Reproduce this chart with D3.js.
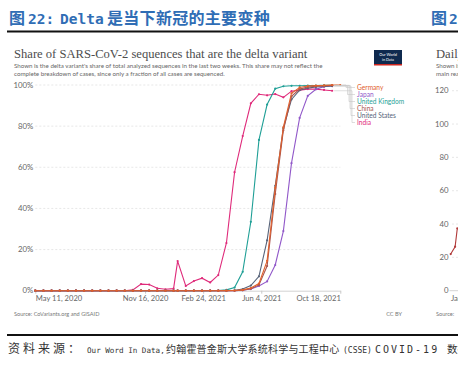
<!DOCTYPE html>
<html><head><meta charset="utf-8">
<script src="https://cdn.jsdelivr.net/npm/d3@7"></script>
<style>
html,body{margin:0;padding:0;background:#fff;}
svg{display:block;}
</style></head>
<body>
<svg id="c" width="458" height="366"></svg>
<script>
// ---------- data ----------
const dates = [
  "2020-05-11","2020-05-25","2020-06-08","2020-06-22","2020-07-06","2020-07-20","2020-08-03","2020-08-17",
  "2020-08-31","2020-09-14","2020-09-28","2020-10-12","2020-10-26","2020-11-09","2020-11-23","2020-12-07",
  "2020-12-21","2021-01-04",
  "2021-01-11","2021-01-25","2021-02-08","2021-02-22","2021-03-08","2021-03-22","2021-04-05","2021-04-19",
  "2021-05-03","2021-05-17","2021-05-31","2021-06-14","2021-06-28","2021-07-12","2021-07-26","2021-08-09",
  "2021-08-23","2021-09-06","2021-09-20","2021-10-04","2021-10-18"
];
const zeros18 = [0,0,0,0,0,0,0,0,0,0,0,0,0,0,0,0,0,0];
const india   = [0,0,0,0,0,0,0,0,0,0,0,0,0.4,3.2,3.0,1.2,0.7,1.0,
                 14.4,2.3,4.7,6.1,4.0,7.6,23.2,57.6,75.2,91.1,95.5,95.0,95.6,94.0,97.0,97.5,98.0,98.0,97.6,97.2,null];
const uk      = zeros18.concat([0,0,0,0,0,0.1,0.4,1.5,9.2,33.5,73.3,90.5,98.2,99.4,99.6,99.6,99.7,99.7,99.8,99.8,null]);
const japan   = zeros18.concat([0,0,0,0,0,0,0,0,0.2,0.8,2.3,4.5,12.5,29,62,84,94.7,97.9,99.2,99.5,null]);
const us      = zeros18.concat([0,0,0,0,0,0,0,0.2,0.8,2.5,7,24.5,51,79,93,97.5,98.5,99,99.3,99.5,null]);
const china   = zeros18.concat([0,0,0,0,0,0,0,0,0.3,1.0,2.8,12,47,78,94.5,98,99,99.4,99.6,99.8,null]);
const germany = zeros18.concat([0,0,0,0,0,0,0.05,0.1,0.4,1.3,3.5,14.5,50,79.5,96,98.8,99.5,99.7,99.8,100,100]);

const seriesNames  = ["India","United Kingdom","Japan","United States","China","Germany"];
const seriesValues = [india, uk, japan, us, china, germany];
const seriesColors = ["#df2a7a","#1f9f96","#9158c9","#58647a","#a85650","#e1602c"];
const legendOrder  = ["Germany","Japan","United Kingdom","China","United States","India"];

const yTicks = [0,20,40,60,80,100];
const xTickDates = ["2020-05-11","2020-11-16","2021-02-24","2021-06-04","2021-10-18"];
const xTickLabels = ["May 11, 2020","Nov 16, 2020","Feb 24, 2021","Jun 4, 2021","Oct 18, 2021"];

// partial neighbouring chart
const rightTicks = [0,20,40,60,80,100,120];
const rightDates = ["2020-01-22","2020-01-24","2020-01-25"];
const rightValues = [22,26.4,37.4];

// ---------- drawing ----------
const svg = d3.select("#c");
const parse = d3.timeParse("%Y-%m-%d");
const sans = "Lato, 'Noto Sans', Arial, sans-serif";
const serif = "'Liberation Serif', 'DejaVu Serif', serif";
const cjk = "'Noto Sans CJK SC'";
const mono = "'DejaVu Sans Mono', monospace";

svg.append("rect").attr("width",458).attr("height",366).attr("fill","#fff");

// header
const head = svg.append("text").attr("y",24).attr("fill","#2f6db5")
  .attr("font-weight","bold").attr("font-size",16);
head.append("tspan").attr("x",9).attr("font-family",cjk).text("图");
head.append("tspan").attr("x",28).attr("font-family",mono).attr("font-size",14.5).text("22:");
head.append("tspan").attr("x",60).attr("font-family",mono).attr("font-size",14.5).text("Delta");
head.append("tspan").attr("x",107).attr("font-family",cjk).attr("letter-spacing",0.3).text("是当下新冠的主要变种");
const head2 = svg.append("text").attr("y",24).attr("fill","#2f6db5")
  .attr("font-weight","bold").attr("font-size",16);
head2.append("tspan").attr("x",431).attr("font-family",cjk).text("图");
head2.append("tspan").attr("x",449).attr("font-family",mono).attr("font-size",14.5).text("2");

svg.append("rect").attr("x",7).attr("y",30.5).attr("width",451).attr("height",2).attr("fill","#111");
svg.append("rect").attr("x",7).attr("y",334).attr("width",451).attr("height",2).attr("fill","#111");

// title & subtitle
svg.append("text").attr("x",14).attr("y",58).attr("font-family",serif).attr("font-size",12.6)
  .attr("fill","#4d4d4d").text("Share of SARS-CoV-2 sequences that are the delta variant");
svg.append("text").attr("x",14).attr("y",68).attr("font-family",sans).attr("font-size",6.2)
  .attr("fill","#666").text("Shown is the delta variant's share of total analyzed sequences in the last two weeks. This share may not reflect the");
svg.append("text").attr("x",14).attr("y",76).attr("font-family",sans).attr("font-size",6.2)
  .attr("fill","#666").text("complete breakdown of cases, since only a fraction of all cases are sequenced.");

// logo
svg.append("rect").attr("x",374).attr("y",50).attr("width",28).attr("height",15).attr("fill","#0f2a4f");
svg.append("rect").attr("x",374).attr("y",64).attr("width",28).attr("height",1.5).attr("fill","#ce261e");
svg.append("text").attr("x",388).attr("y",56).attr("text-anchor","middle").attr("font-family",sans)
  .attr("font-size",3.8).attr("fill","#fff").text("Our World");
svg.append("text").attr("x",388).attr("y",61).attr("text-anchor","middle").attr("font-family",sans)
  .attr("font-size",3.8).attr("fill","#fff").text("in Data");

// scales
const x = d3.scaleTime().domain([parse("2020-05-11"), parse("2021-10-18")]).range([35.3, 340.3]);
const y = d3.scaleLinear().domain([0,100]).range([290.7, 85]);

// grid
svg.append("g").selectAll("line").data(yTicks.filter(d=>d>0)).join("line")
  .attr("x1",35.3).attr("x2",340.3).attr("y1",d=>y(d)).attr("y2",d=>y(d))
  .attr("stroke","#dcdcdc").attr("stroke-width",0.7).attr("stroke-dasharray","2,2");

// y axis labels
svg.append("g").selectAll("text").data(yTicks).join("text")
  .attr("x",33.3).attr("y",d=>y(d)+2.7).attr("text-anchor","end")
  .attr("font-family",sans).attr("font-size",7.8).attr("fill","#666").text(d=>d+"%");

// x axis
const xAxis = d3.axisBottom(x).tickValues(xTickDates.map(parse))
  .tickFormat((d,i)=>xTickLabels[i]).tickSize(3).tickSizeOuter(0);
const gx = svg.append("g").attr("transform","translate(0,290.7)").call(xAxis);
gx.select(".domain").attr("stroke","#c8c8c8").attr("stroke-width",0.8);
gx.selectAll(".tick line").attr("stroke","#c8c8c8");
gx.selectAll(".tick text").attr("font-family",sans).attr("font-size",7.6).attr("fill","#666").attr("dy","0.6em")
  .attr("text-anchor",(d,i)=> i===0 ? "start" : (i===xTickLabels.length-1 ? "end" : "middle"));

// lines
const line = d3.line().defined(d=>d.v!==null).x(d=>x(d.t)).y(d=>y(d.v));
seriesNames.forEach((name,si)=>{
  const pts = dates.map((d,i)=>({t:parse(d), v:seriesValues[si][i]}));
  const g = svg.append("g");
  g.append("path").datum(pts).attr("d",line).attr("fill","none")
    .attr("stroke",seriesColors[si]).attr("stroke-width",1.1);
  g.selectAll("circle").data(pts.filter(p=>p.v!==null)).join("circle")
    .attr("cx",p=>x(p.t)).attr("cy",p=>y(p.v)).attr("r",1.1).attr("fill",seriesColors[si]);
});

// legend labels with connectors
const labelY = [89.5, 96.5, 103.5, 110.5, 117.5, 124.5];
const connX  = [346, 347.5, 349, 350, 351, 352];
legendOrder.forEach((name,li)=>{
  const si = seriesNames.indexOf(name);
  const vals = seriesValues[si];
  let last = vals.length-1; while (vals[last]===null) last--;
  const ex = x(parse(dates[last])), ey = y(vals[last]);
  svg.append("path").attr("d",`M${ex+2},${ey} H${connX[li]} V${labelY[li]-2} H${355}`)
    .attr("fill","none").attr("stroke","#c8c8c8").attr("stroke-width",0.6);
  svg.append("text").attr("x",357).attr("y",labelY[li]).attr("font-family",sans).attr("font-size",6.6)
    .attr("fill",seriesColors[si]).text(name);
});

// sources
svg.append("text").attr("x",14).attr("y",316).attr("font-family",sans).attr("font-size",5.6)
  .attr("fill","#777").text("Source: CoVariants.org and GISAID");
svg.append("text").attr("x",402).attr("y",316).attr("text-anchor","end").attr("font-family",sans).attr("font-size",5.6)
  .attr("fill","#777").text("CC BY");

// neighbouring chart (partial, cut by the page edge as in the reference)
svg.append("text").attr("x",436).attr("y",58).attr("font-family",serif).attr("font-size",12.6)
  .attr("fill","#4d4d4d").text("Daily new");
svg.append("text").attr("x",436).attr("y",68).attr("font-family",sans).attr("font-size",6.2)
  .attr("fill","#666").text("Shown is the");
svg.append("text").attr("x",436).attr("y",76).attr("font-family",sans).attr("font-size",6.2)
  .attr("fill","#666").text("main reason");
const yr = d3.scaleLinear().domain([0,120]).range([290.7, 90.7]);
const xr = d3.scaleTime().domain([parse("2020-01-22"), parse("2020-02-22")]).range([450.7, 518.9]);
svg.append("g").selectAll("line").data(rightTicks.filter(d=>d>0)).join("line")
  .attr("x1",452).attr("x2",458).attr("y1",d=>yr(d)).attr("y2",d=>yr(d))
  .attr("stroke","#dcdcdc").attr("stroke-width",0.7).attr("stroke-dasharray","2,2");
svg.append("g").selectAll("text").data(rightTicks).join("text")
  .attr("x",448.5).attr("y",d=>yr(d)+2.7).attr("text-anchor","end")
  .attr("font-family",sans).attr("font-size",7.8).attr("fill","#666").text(d=>d);
svg.append("line").attr("x1",449.5).attr("x2",458).attr("y1",290.7).attr("y2",290.7).attr("stroke","#c8c8c8").attr("stroke-width",0.8);
svg.append("text").attr("x",451).attr("y",300.5).attr("font-family",sans).attr("font-size",7.6).attr("fill","#666").text("Jan");
const rpts = rightDates.map((d,i)=>({t:parse(d), v:rightValues[i]}));
svg.append("path").datum(rpts).attr("d",d3.line().x(d=>xr(d.t)).y(d=>yr(d.v)))
  .attr("fill","none").attr("stroke","#b13a3a").attr("stroke-width",1.1);
svg.selectAll("circle.r").data(rpts).join("circle").attr("class","r")
  .attr("cx",d=>xr(d.t)).attr("cy",d=>yr(d.v)).attr("r",1.1).attr("fill","#b13a3a");
svg.append("text").attr("x",436).attr("y",316).attr("font-family",sans).attr("font-size",5.6)
  .attr("fill","#777").text("Source:");

// footer note
const footParts = [
  {t:"资料来源：", x:8,   f:cjk,  s:12,  ls:3},
  {t:"Our Word In Data,", x:87, f:mono, s:7.6, ls:0},
  {t:"约翰霍普金斯大学系统科学与工程中心", x:166, f:cjk, s:10, ls:0.2},
  {t:"(CSSE)", x:343, f:mono, s:8, ls:0},
  {t:"COVID-19", x:375, f:mono, s:10, ls:2},
  {t:"数据", x:447, f:cjk, s:10.5, ls:0}
];
footParts.forEach(p=>{
  svg.append("text").attr("x",p.x).attr("y",353).attr("fill","#333")
    .attr("font-family",p.f).attr("font-size",p.s).attr("letter-spacing",p.ls).text(p.t);
});
</script>
</body></html>
